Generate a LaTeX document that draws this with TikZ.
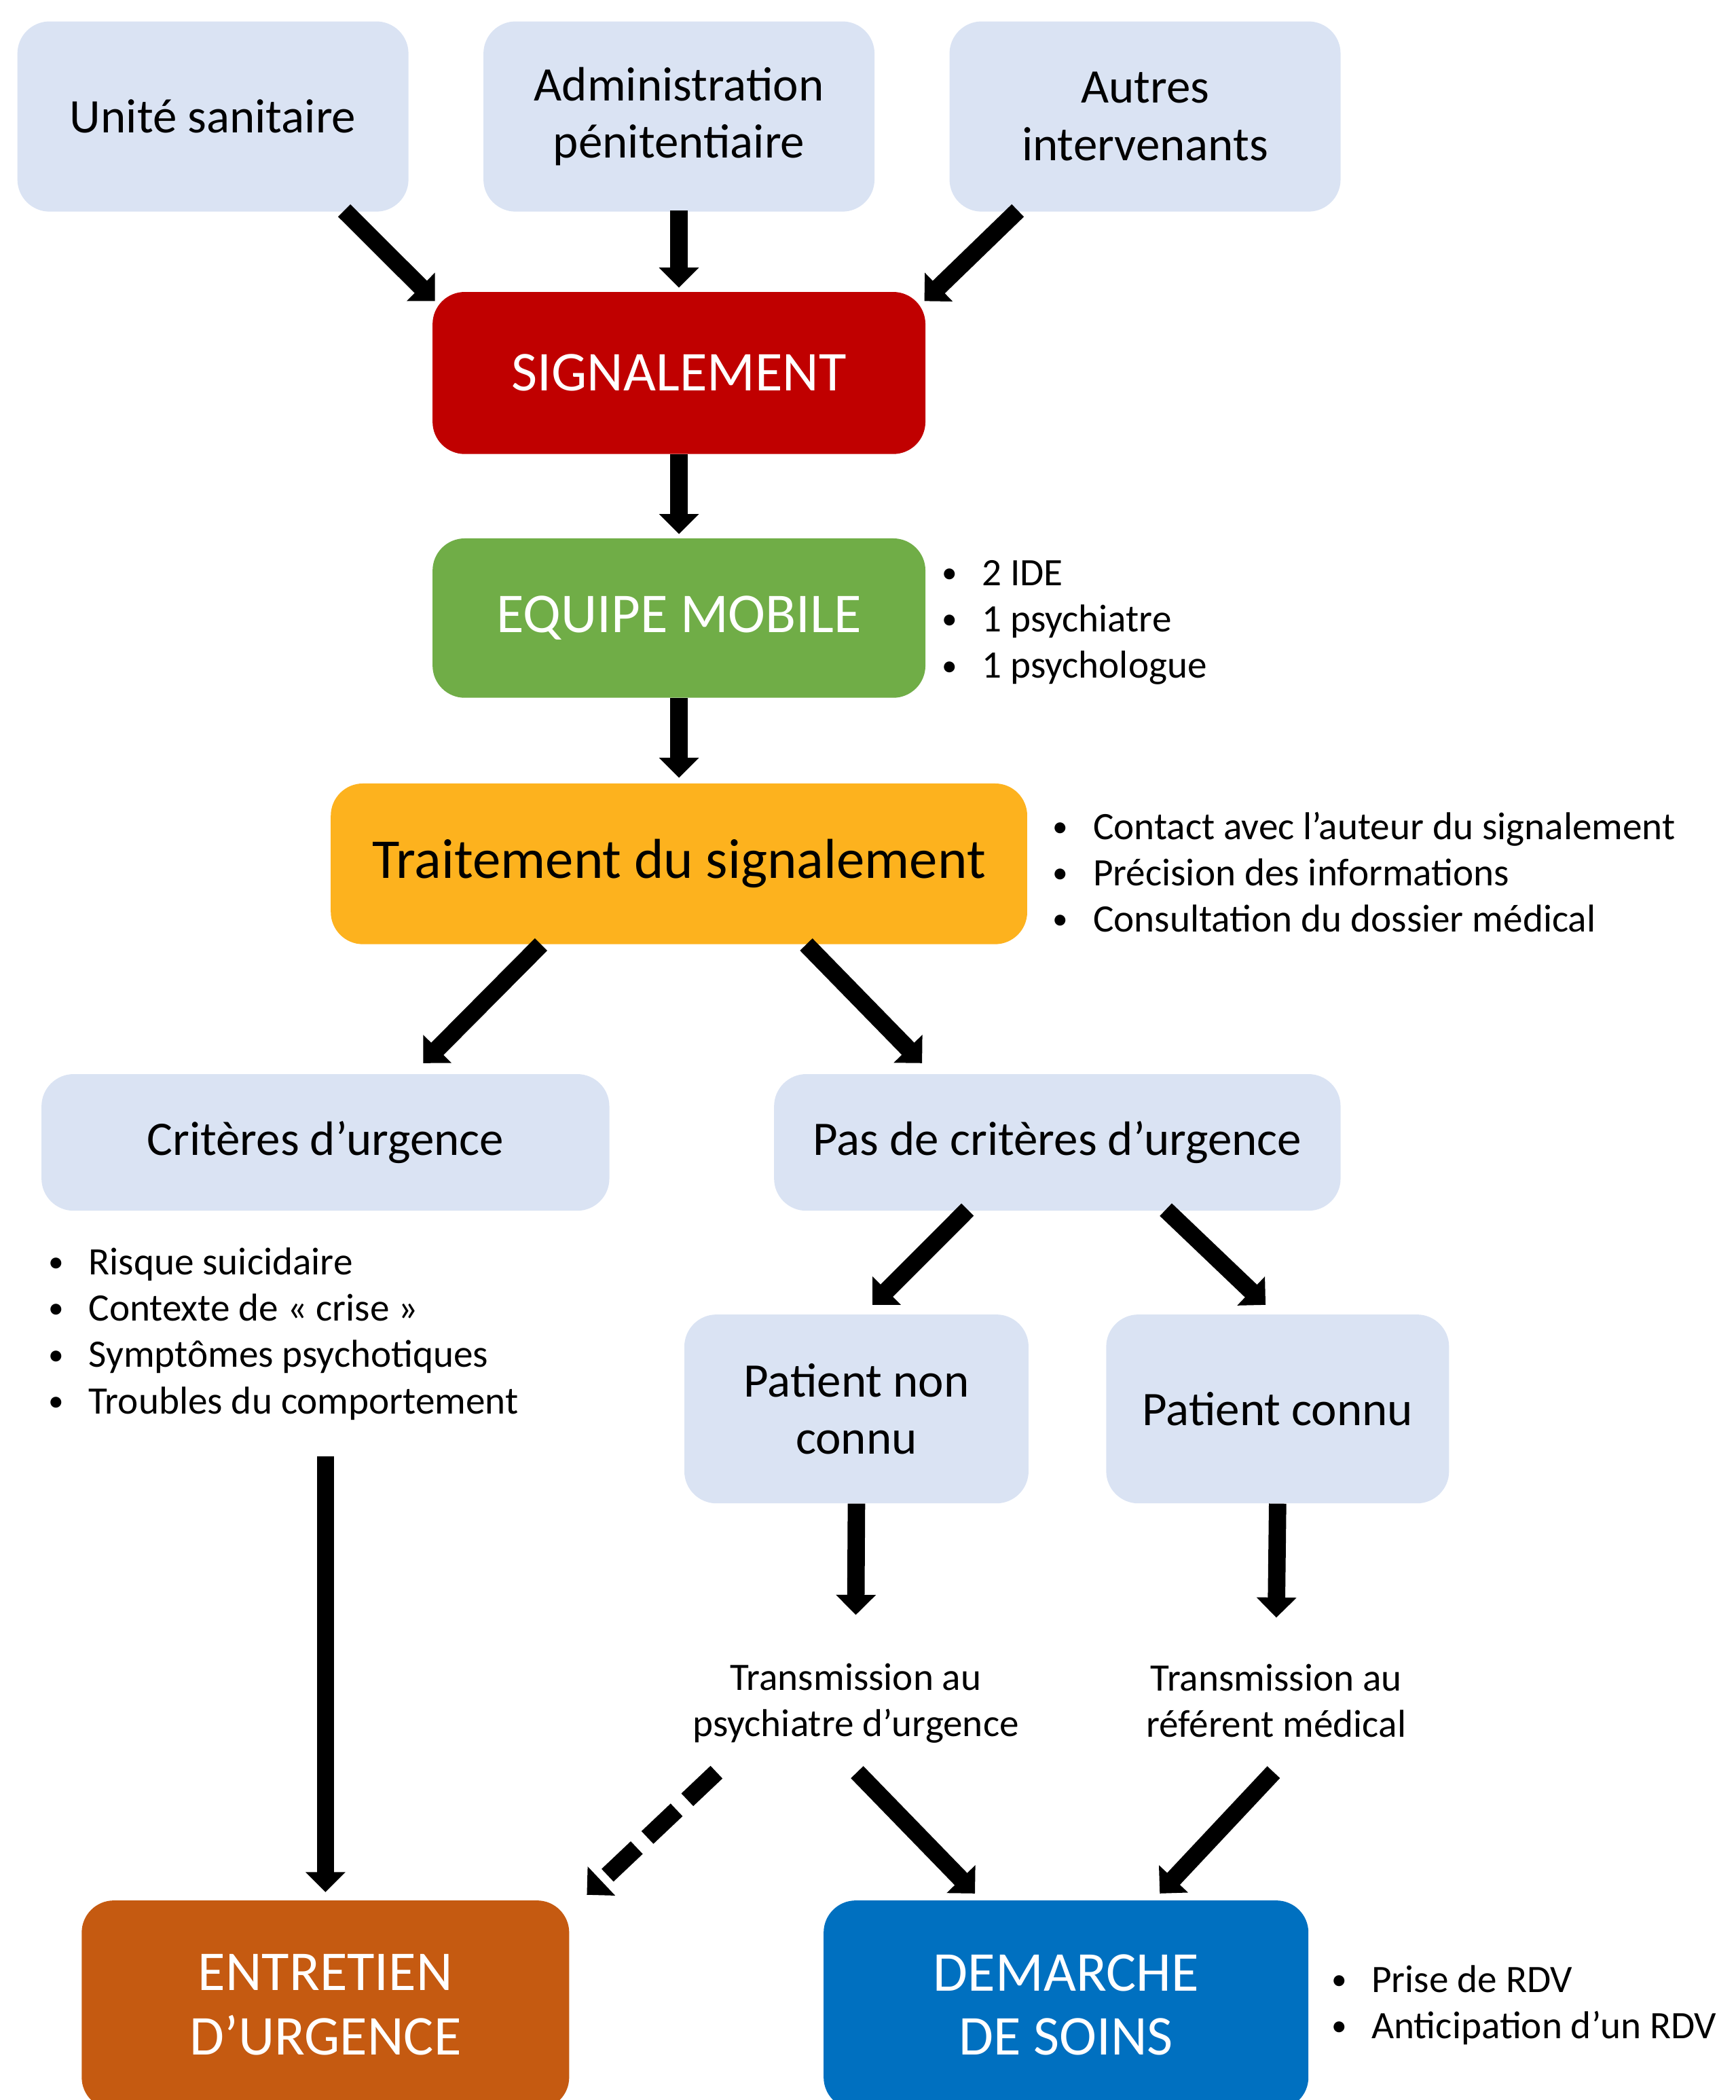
\documentclass[tikz,border=0pt]{standalone}
\usepackage{fontspec}
\setmainfont{Carlito}
\usetikzlibrary{arrows.meta}
\definecolor{lightbox}{HTML}{DAE3F3}
\definecolor{sigred}{HTML}{C00000}
\definecolor{eqgreen}{HTML}{70AD47}
\definecolor{trorange}{HTML}{FDB21E}
\definecolor{entbrown}{HTML}{C55A11}
\definecolor{demblue}{HTML}{0070C0}
\newcommand{\bl}[1]{\makebox[30pt][l]{\raisebox{2pt}{\fontsize{23}{23}\selectfont•}}#1}
\tikzset{
  box/.style={rectangle, rounded corners=24pt, inner sep=0pt, align=center, text=black},
  lbox/.style={box, fill=lightbox, font=\fontsize{36}{43}\selectfont},
  cbox/.style={box, font=\fontsize{42}{48}\selectfont, text=white},
  blist/.style={inner sep=0pt, align=left, anchor=west, font=\fontsize{29}{34.5}\selectfont},
  tlabel/.style={inner sep=0pt, align=center, font=\fontsize{29}{34.5}\selectfont, minimum width=260pt, minimum height=108pt},
  flow/.style={line width=13pt, -{Triangle[width=29pt,length=15pt]}},
}
\begin{document}
\begin{tikzpicture}[x=1pt,y=-1pt]
\useasboundingbox (0,0) rectangle (1296,1568);
\clip (0,0) rectangle (1296,1568);

% top sources
\node[lbox, minimum width=292pt, minimum height=142pt] (us) at (159,87) {Unité sanitaire};
\node[lbox, minimum width=292pt, minimum height=142pt] (ap) at (507,87) {Administration\\pénitentiaire};
\node[lbox, minimum width=292pt, minimum height=142pt] (ai) at (855,87) {Autres\\intervenants};

% main chain
\node[cbox, fill=sigred, minimum width=368pt, minimum height=121pt] (sig) at (507,278.5) {SIGNALEMENT};
\node[cbox, fill=eqgreen, minimum width=368pt, minimum height=119pt] (eq) at (507,461.5) {EQUIPE MOBILE};
\node[box, fill=trorange, font=\fontsize{42}{48}\selectfont, minimum width=520pt, minimum height=120pt] (tr) at (507,645) {Traitement du signalement};

% bullet lists
\node[blist] (eql) at (703,465) {\bl{2 IDE}\\\bl{1 psychiatre}\\\bl{1 psychologue}};
\node[blist] (trl) at (786,651) {\bl{Contact avec l’auteur du signalement}\\\bl{Précision des informations}\\\bl{Consultation du dossier médical}};

% branches
\node[lbox, minimum width=424pt, minimum height=102pt] (cu) at (243,853) {Critères d’urgence};
\node[lbox, minimum width=423pt, minimum height=102pt] (pcu) at (789.5,853) {Pas de critères d’urgence};
\node[blist] (cul) at (36,996) {\bl{Risque suicidaire}\\\bl{Contexte de « crise »}\\\bl{Symptômes psychotiques}\\\bl{Troubles du comportement}};

\node[lbox, minimum width=257pt, minimum height=141pt] (pnc) at (639.5,1052) {Patient non\\connu};
\node[lbox, minimum width=256pt, minimum height=141pt] (pc) at (954,1052) {Patient connu};

\node[tlabel] (t1) at (639,1272) {Transmission au\\psychiatre d’urgence};
\node[tlabel] (t2) at (953,1270) {Transmission au\\référent médical};

% outcomes
\node[cbox, fill=entbrown, minimum width=364pt, minimum height=156pt] (ent) at (243,1497) {ENTRETIEN\\D’URGENCE};
\node[cbox, fill=demblue, minimum width=362pt, minimum height=156pt] (dem) at (796,1497) {DEMARCHE\\DE SOINS};
\node[blist] (deml) at (994,1497) {\bl{Prise de RDV}\\\bl{Anticipation d’un RDV}};

% connectors
\draw[flow] ([xshift=98pt,yshift=1pt]us.south) -- ([xshift=2pt,yshift=-7pt]sig.north west);
\draw[flow] ([yshift=1pt]ap.south) -- ([yshift=3pt]sig.north);
\draw[flow] ([xshift=-95pt,yshift=1pt]ai.south) -- ([xshift=-1pt,yshift=-7pt]sig.north east);
\draw[flow] (sig.south) -- ([yshift=3pt]eq.north);
\draw[flow] (eq.south) -- ([yshift=4pt]tr.north);
\draw[flow] ([xshift=-103pt]tr.south) -- ([xshift=73pt,yshift=8pt]cu.north);
\draw[flow] ([xshift=95pt]tr.south) -- ([xshift=-101pt,yshift=8pt]pcu.north);
\draw[flow] ([xshift=-67pt,yshift=1pt]pcu.south) -- ([xshift=12pt,yshift=7pt]pnc.north);
\draw[flow] ([xshift=81pt,yshift=1pt]pcu.south) -- ([xshift=-9pt,yshift=7pt]pc.north);
\draw[flow] (pnc.south) -- ([yshift=12pt]t1.north);
\draw[flow] (pc.south) -- ([yshift=8pt]t2.north);
\draw[flow] ([yshift=-183pt]cu.south) -- ([yshift=6pt]ent.north);
\draw[flow, dash pattern=on 30pt off 11pt] ([xshift=-104pt,yshift=3pt]t1.south) -- ([xshift=13pt,yshift=4pt]ent.north east);
\draw[flow] ([xshift=1pt,yshift=3pt]t1.south) -- ([xshift=-68pt,yshift=5pt]dem.north);
\draw[flow] ([xshift=-2pt,yshift=1pt]t2.south) -- ([xshift=70pt,yshift=5pt]dem.north);
\end{tikzpicture}
\end{document}
